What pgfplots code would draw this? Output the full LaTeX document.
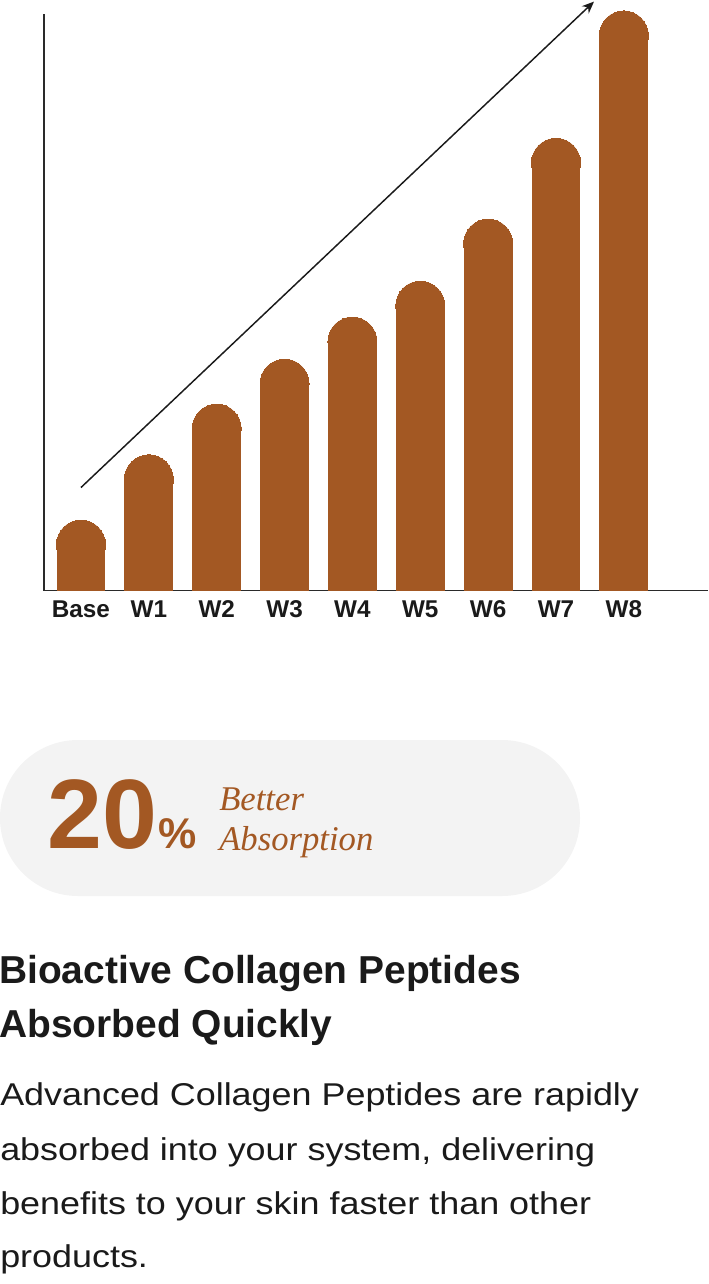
\documentclass[border=0pt]{standalone}
\usepackage{pgfplots}
\usepackage{pgfplotstable}
\pgfplotsset{compat=1.18}
\usetikzlibrary{arrows.meta}
\usepackage{fontspec}
\setmainfont{Liberation Sans}
\newfontfamily\bodyfont[FakeStretch=1.14]{Liberation Sans}
\newfontfamily\seriffont{Liberation Serif}
\definecolor{barbrown}{HTML}{A35823}
\definecolor{pillgray}{HTML}{F3F3F3}
\definecolor{ink}{HTML}{1A1A1A}
\definecolor{axisgray}{HTML}{2A2A2A}

% bar stems (height up to the centre of the rounded cap), in pixel units
\pgfplotstableread{
x h
0 45.9
1 111.2
2 161.9
3 206.8
4 248.9
5 284.8
6 346.9
7 427.7
8 555.1
}\bars

\begin{document}
\begin{tikzpicture}
\path[use as bounding box] (0,0) rectangle (531pt,-963pt);
\begin{axis}[
  at={(33pt,-442.875pt)}, anchor=south west,
  scale only axis, width=498pt, height=432.375pt,
  xmin=-0.545, xmax=9.24, ymin=0, ymax=576.5,
  axis x line=bottom, axis y line=left,
  axis line style={-, line width=0.9pt, color=axisgray},
  every outer x axis line/.append style={-},
  every outer y axis line/.append style={-},
  xtick={0,...,8},
  xticklabels={Base,W1,W2,W3,W4,W5,W6,W7,W8},
  ytick=\empty,
  major tick length=0pt,
  xticklabel style={anchor=base, yshift=-19.875pt, inner sep=0pt,
    font=\fontsize{18.2}{18.2}\selectfont\bfseries, text=ink},
  clip=false,
]
\addplot[ycomb, line width=36.6pt, color=barbrown, mark=*, mark size=18.4pt,
  mark options={solid, line width=0pt, draw=none, fill=barbrown}] table[x=x, y=h] {\bars};
\addplot[-{Stealth[length=9pt, width=7.5pt]}, line width=1.1pt, color=ink]
  coordinates {(0,103) (7.56,588.9)};
\end{axis}
\begin{scope}[x=0.75pt, y=-0.75pt]
\fill[pillgray, rounded corners=58.4pt] (0,740) rectangle (580,896);
\node[anchor=base west, inner sep=0pt, text=barbrown] at (47,848)
  {\fontsize{74}{74}\selectfont\bfseries 20\hspace{1pt}\fontsize{32.25}{32.25}\selectfont\%};
\node[anchor=base west, inner sep=0pt, text=barbrown] at (219,810)
  {\seriffont\itshape\fontsize{26}{26}\selectfont Better};
\node[anchor=base west, inner sep=0pt, text=barbrown] at (219,850)
  {\seriffont\itshape\fontsize{26}{26}\selectfont Absorption};
\node[anchor=base west, inner sep=0pt, text=ink] at (-1,983.3)
  {\fontsize{29.2}{29.2}\selectfont\bfseries Bioactive Collagen Peptides};
\node[anchor=base west, inner sep=0pt, text=ink] at (-1,1037.3)
  {\fontsize{29.2}{29.2}\selectfont\bfseries Absorbed Quickly};
\node[anchor=base west, inner sep=0pt, text=ink] at (0,1105)
  {\bodyfont\fontsize{23.625}{23.625}\selectfont Advanced Collagen Peptides are rapidly};
\node[anchor=base west, inner sep=0pt, text=ink] at (0,1160.5)
  {\bodyfont\fontsize{23.625}{23.625}\selectfont absorbed into your system, delivering};
\node[anchor=base west, inner sep=0pt, text=ink] at (0,1214)
  {\bodyfont\fontsize{23.625}{23.625}\selectfont benefits to your skin faster than other};
\node[anchor=base west, inner sep=0pt, text=ink] at (0,1267.5)
  {\bodyfont\fontsize{23.625}{23.625}\selectfont products.};
\end{scope}
\end{tikzpicture}
\end{document}
